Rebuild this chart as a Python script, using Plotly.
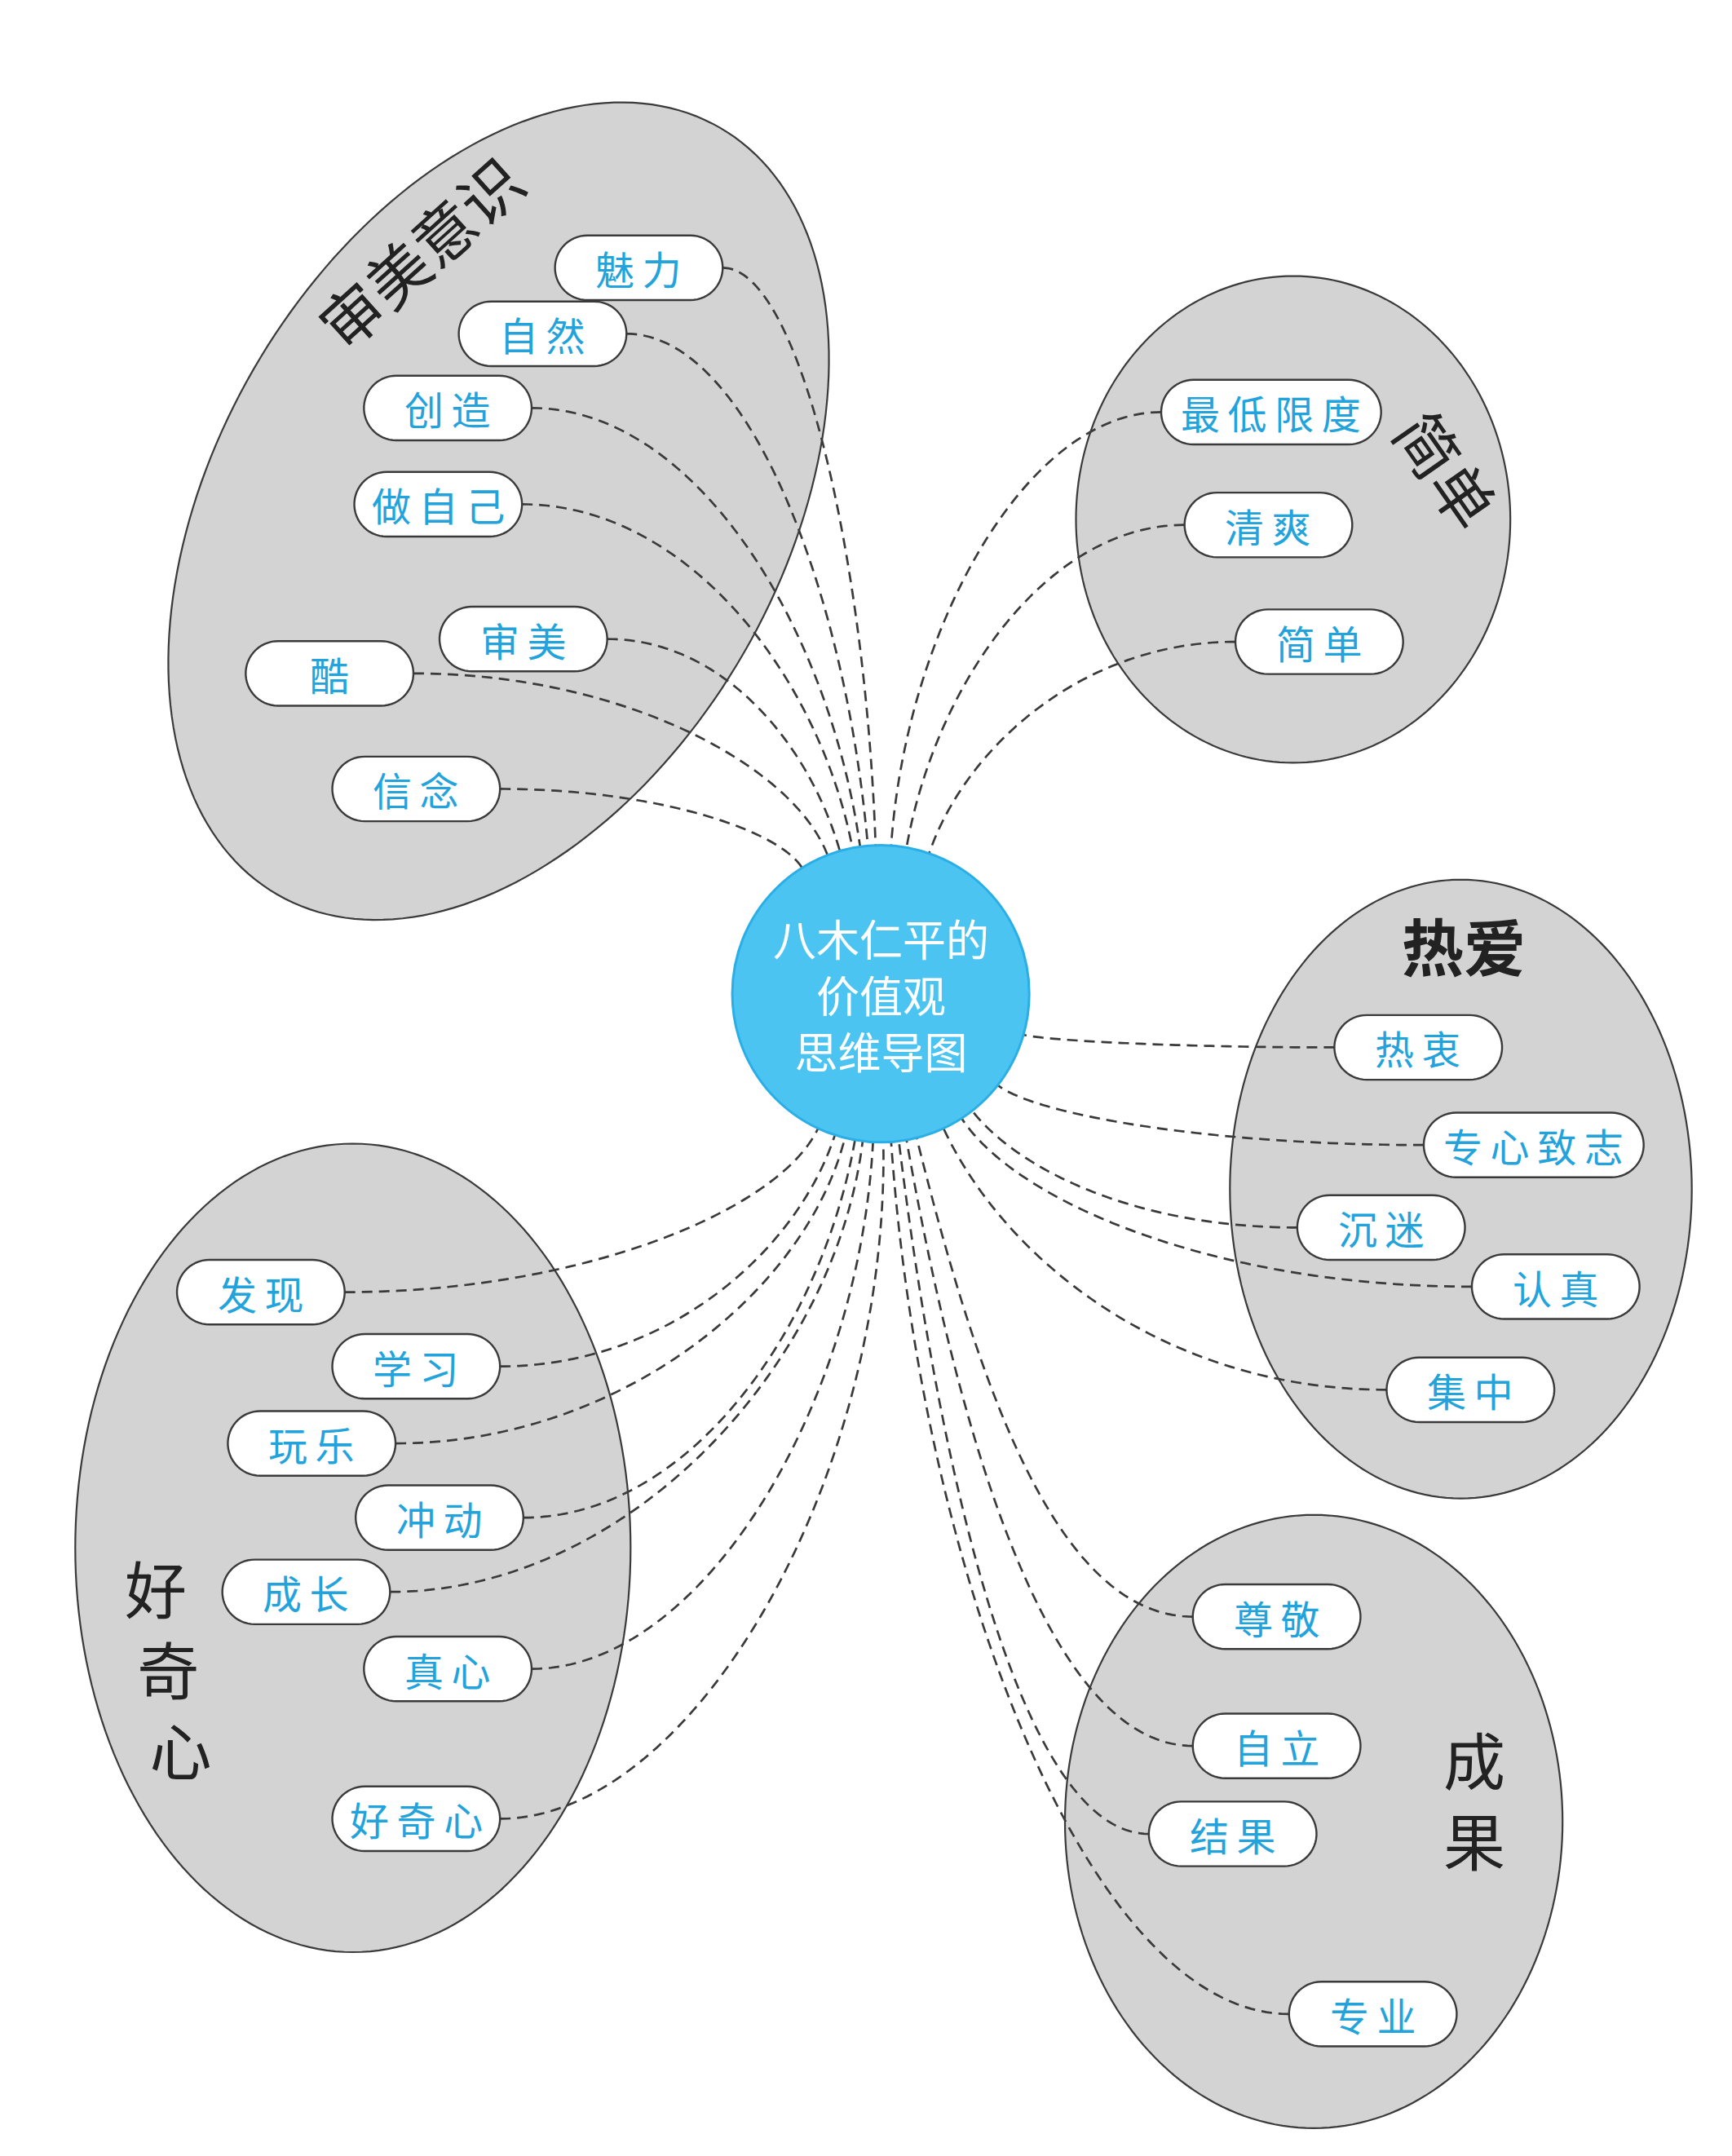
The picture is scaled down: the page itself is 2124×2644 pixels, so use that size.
import numpy as np
import plotly.graph_objects as go

# ---------------- data ----------------
center_lines = ["八木仁平的", "价值观", "思维导图"]

cat_aesthetic = "审美意识"
nodes_aesthetic = ["魅力", "自然", "创造", "做自己", "审美", "酷", "信念"]

cat_simple = "简单"
nodes_simple = ["最低限度", "清爽", "简单"]

cat_love = "热爱"
nodes_love = ["热衷", "专心致志", "沉迷", "认真", "集中"]

cat_result = "成果"
nodes_result = ["尊敬", "自立", "结果", "专业"]

cat_curious = "好奇心"
nodes_curious = ["发现", "学习", "玩乐", "冲动", "成长", "真心", "好奇心"]

# ---------------- layout (drawing space, y down) ----------------
W, H = 1260, 1568
CX, CY, CR = 636, 718, 108

groups = [
    dict(nodes=nodes_aesthetic, side="left",
         pos=[(460, 190), (390, 238), (321, 292), (314, 362), (376, 460), (235, 485), (298, 569)],
         ang=[-92, -95, -98, -101, -106, -111, -122]),
    dict(nodes=nodes_simple, side="right",
         pos=[(920, 295), (918, 377), (955, 462)],
         ang=[-86, -80, -71]),
    dict(nodes=nodes_love, side="right",
         pos=[(1027, 757), (1111, 828), (1000, 888), (1127, 931), (1065, 1006)],
         ang=[16, 38, 52, 57, 65]),
    dict(nodes=nodes_result, side="right",
         pos=[(924, 1171), (924, 1265), (892, 1329), (994, 1460)],
         ang=[76, 80, 83, 86]),
    dict(nodes=nodes_curious, side="left",
         pos=[(185, 935), (298, 989), (222, 1045), (315, 1099), (218, 1153), (321, 1209), (298, 1318)],
         ang=[115, 108, 104, 100, 97, 93, 89]),
]

PILL_H = 47
LINE_DARK = "#3a3a3a"
ELL_FILL = "#d3d3d3"
NODE_TXT = "#22a3dc"
FONT = "Noto Sans CJK SC"

shapes = []
annotations = []


def path_from(xs, ys, close=True):
    s = "M " + " L ".join(f"{x:.2f},{y:.2f}" for x, y in zip(xs, ys))
    return s + (" Z" if close else "")


def ellipse(cx, cy, a, b, theta_deg=0.0, n=200):
    t = np.linspace(0, 2 * np.pi, n, endpoint=False)
    th = np.radians(theta_deg)
    xs = cx + a * np.cos(t) * np.cos(th) - b * np.sin(t) * np.sin(th)
    ys = cy - (a * np.cos(t) * np.sin(th) + b * np.sin(t) * np.cos(th))
    return path_from(xs, ys)


def pill(cx, cy, w, h):
    r = h / 2
    t1 = np.linspace(-np.pi / 2, np.pi / 2, 30)
    t2 = np.linspace(np.pi / 2, 3 * np.pi / 2, 30)
    xs = np.concatenate([cx + w / 2 - r + r * np.cos(t1), cx - w / 2 + r + r * np.cos(t2)])
    ys = np.concatenate([cy + r * np.sin(t1), cy + r * np.sin(t2)])
    return path_from(xs, ys)


# ---- background ellipses ----
ell_specs = [
    (358, 367, 322, 206, 60),
    (936, 373, 158, 177, 0),
    (1058, 860, 168, 225, 0),
    (951, 1320, 181, 223, 0),
    (252, 1121, 202, 294, 0),
]
for cx, cy, a, b, th in ell_specs:
    shapes.append(dict(type="path", path=ellipse(cx, cy, a, b, th), xref="x", yref="y",
                       fillcolor=ELL_FILL, line=dict(color=LINE_DARK, width=2.2), layer="above"))


def node_width(label):
    return 122 if len(label) <= 3 else 160


# ---- dashed connectors ----
for g in groups:
    for label, (nx, ny), ang in zip(g["nodes"], g["pos"], g["ang"]):
        w = node_width(label)
        if g["side"] == "left":
            p0 = np.array([nx + w / 2, ny])
        else:
            p0 = np.array([nx - w / 2, ny])
        a = np.radians(ang)
        rad = np.array([np.cos(a), np.sin(a)])
        p3 = np.array([CX, CY]) + CR * rad
        dx, dy = p0 - p3
        p1 = p0 - np.array([dx * 0.5, 0])
        k = 0.5 * abs(dy) / max(abs(np.sin(a)), 0.3)
        p2 = p3 + rad * k
        t = np.linspace(0, 1, 80)[:, None]
        pts = (1 - t) ** 3 * p0 + 3 * (1 - t) ** 2 * t * p1 + 3 * (1 - t) * t ** 2 * p2 + t ** 3 * p3
        shapes.append(dict(type="path", path=path_from(pts[:, 0], pts[:, 1], close=False),
                           xref="x", yref="y", line=dict(color=LINE_DARK, width=2.7, dash="13px,8px"),
                           layer="above"))

# ---- nodes ----
for g in groups:
    for label, (nx, ny) in zip(g["nodes"], g["pos"]):
        w = node_width(label)
        shapes.append(dict(type="path", path=pill(nx, ny, w, PILL_H), xref="x", yref="y",
                           fillcolor="white", line=dict(color=LINE_DARK, width=2.4), layer="above"))
        annotations.append(dict(x=nx, y=ny, xref="x", yref="y", text="\u2009".join(label), showarrow=False,
                                font=dict(family=FONT, size=48, color=NODE_TXT), xanchor="center", yanchor="middle"))

# ---- center circle ----
shapes.append(dict(type="circle", xref="x", yref="y", x0=CX - CR, x1=CX + CR, y0=CY - CR, y1=CY + CR,
                   fillcolor="#4bc4f1", line=dict(color="#2aaee6", width=3), layer="above"))
annotations.append(dict(x=CX, y=CY, xref="x", yref="y", text="<br>".join(center_lines), showarrow=False,
                        font=dict(family=FONT, size=53, color="white"), xanchor="center", yanchor="middle",
                        align="center"))

# ---- category labels ----
CAT_FONT = dict(family=FONT, size=76, color="#222222")
annotations.append(dict(x=300, y=178, xref="x", yref="y", text=cat_aesthetic, textangle=-42, showarrow=False,
                        font=CAT_FONT, xanchor="center", yanchor="middle"))
annotations.append(dict(x=1049, y=336, xref="x", yref="y", text=cat_simple, textangle=55, showarrow=False,
                        font=CAT_FONT, xanchor="center", yanchor="middle"))
annotations.append(dict(x=1060, y=682, xref="x", yref="y", text=f"<b>{cat_love}</b>", showarrow=False,
                        font=CAT_FONT, xanchor="center", yanchor="middle"))
annotations.append(dict(x=1068, y=1303, xref="x", yref="y", text="<br>".join(cat_result), showarrow=False,
                        font=CAT_FONT, xanchor="center", yanchor="middle", align="center"))
# slanted vertical label: each line indented a little more
curious_text = "<br>".join("\u2009" * i + ch for i, ch in enumerate(cat_curious))
annotations.append(dict(x=85, y=1208, xref="x", yref="y", text=curious_text, showarrow=False,
                        font=CAT_FONT, xanchor="left", yanchor="middle", align="left"))

fig = go.Figure()
fig.add_trace(go.Scatter(x=[0, W], y=[0, H], mode="markers", marker=dict(opacity=0), hoverinfo="skip",
                         showlegend=False))
fig.update_layout(
    width=2124, height=2644,
    margin=dict(l=0, r=0, t=0, b=0),
    paper_bgcolor="white", plot_bgcolor="white",
    xaxis=dict(range=[0, W], visible=False, fixedrange=True),
    yaxis=dict(range=[H, 0], visible=False, fixedrange=True),
    shapes=shapes, annotations=annotations, showlegend=False,
)
fig.write_html("out.html")
